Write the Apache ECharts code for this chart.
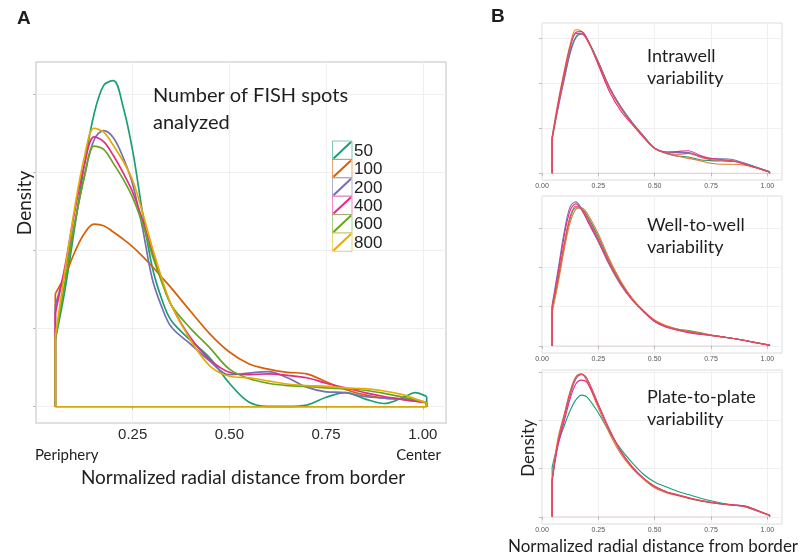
<!DOCTYPE html>
<html><head><meta charset="utf-8">
<script src="https://cdn.jsdelivr.net/npm/echarts@6/dist/echarts.min.js"></script>
<style>html,body{margin:0;padding:0;background:#fff}#c{width:800px;height:557px}</style>
</head><body><div id="c"></div>
<script>
// ---------- Panel A data ----------
const xA = [0.05,0.075,0.1,0.125,0.15,0.175,0.2,0.225,0.25,0.275,0.3,0.325,0.35,0.4,0.45,0.5,0.55,0.6,0.65,0.7,0.75,0.8,0.85,0.9,0.95,0.98,1.01];
const a50  = [0.86,1.5,2.3,3.1,3.75,4.12,4.18,3.85,3.28,2.5,1.8,1.38,1.1,0.85,0.62,0.3,0.06,0.004,0.004,0.02,0.12,0.18,0.1,0.04,0.12,0.18,0.13];
const a100 = [1.45,1.68,1.98,2.22,2.34,2.32,2.24,2.15,2.05,1.93,1.8,1.66,1.52,1.22,0.93,0.7,0.55,0.48,0.44,0.42,0.32,0.22,0.15,0.11,0.09,0.07,0.05];
const a200 = [1.3,1.75,2.35,2.95,3.42,3.54,3.45,3.2,2.85,2.3,1.65,1.28,1.02,0.8,0.58,0.41,0.43,0.45,0.37,0.25,0.19,0.18,0.13,0.11,0.1,0.08,0.05];
const a400 = [1.2,1.8,2.5,3.1,3.46,3.4,3.22,3.0,2.75,2.4,2.0,1.62,1.3,0.88,0.6,0.44,0.41,0.42,0.4,0.37,0.3,0.24,0.18,0.13,0.09,0.07,0.05];
const a600 = [0.86,1.6,2.35,2.95,3.34,3.3,3.12,2.92,2.68,2.35,1.95,1.6,1.3,1.0,0.75,0.48,0.36,0.3,0.27,0.26,0.24,0.23,0.21,0.17,0.12,0.09,0.05];
const a800 = [0.9,1.75,2.55,3.2,3.57,3.52,3.35,3.15,2.9,2.5,2.05,1.65,1.3,0.85,0.52,0.39,0.37,0.33,0.29,0.27,0.26,0.24,0.23,0.2,0.15,0.1,0.05];
const groupsA = ['50','100','200','400','600','800'];
const seriesA = [a50,a100,a200,a400,a600,a800];
const colorsA = ['#1b9e77','#d95f02','#7570b3','#e7298a','#66a61e','#e6ab02'];
const xTickLabelsA = [0.25,0.5,0.75,1.0];
const yTicksA = [0,1,2,3,4];

// ---------- Panel B data ----------
const xB = [0.045,0.07,0.1,0.125,0.15,0.175,0.2,0.25,0.3,0.35,0.4,0.45,0.5,0.55,0.6,0.65,0.7,0.75,0.8,0.85,0.9,0.95,1.01];
const b1teal   = [0.8,1.45,2.15,2.7,3.02,3.1,2.98,2.47,1.9,1.47,1.13,0.83,0.55,0.44,0.38,0.36,0.3,0.28,0.27,0.26,0.22,0.14,0.04];
const b1orange = [0.82,1.55,2.3,2.85,3.18,3.15,2.98,2.42,1.87,1.45,1.1,0.8,0.55,0.45,0.38,0.33,0.28,0.22,0.2,0.2,0.18,0.12,0.02];
const b1purple = [0.75,1.4,2.1,2.65,3.0,3.08,2.97,2.46,1.9,1.47,1.12,0.83,0.56,0.47,0.46,0.46,0.38,0.32,0.32,0.3,0.22,0.13,0.03];
const b1pink   = [0.78,1.5,2.25,2.8,3.12,3.14,2.98,2.4,1.8,1.38,1.08,0.8,0.55,0.47,0.48,0.5,0.4,0.33,0.3,0.27,0.2,0.12,0.02];
const b1red    = [0.76,1.45,2.2,2.78,3.1,3.1,2.95,2.45,1.88,1.44,1.1,0.82,0.55,0.45,0.42,0.44,0.36,0.3,0.29,0.27,0.2,0.12,0.03];
const b2teal   = [0.95,1.65,2.6,3.25,3.52,3.5,3.32,2.78,2.15,1.62,1.2,0.88,0.63,0.5,0.43,0.39,0.34,0.28,0.23,0.19,0.14,0.085,0.02];
const b2orange = [0.85,1.55,2.5,3.15,3.48,3.52,3.38,2.85,2.2,1.65,1.22,0.9,0.66,0.52,0.43,0.38,0.33,0.28,0.23,0.19,0.14,0.085,0.02];
const b2purple = [1.05,1.9,2.95,3.55,3.67,3.5,3.2,2.65,2.05,1.55,1.17,0.88,0.62,0.48,0.42,0.35,0.3,0.27,0.23,0.19,0.14,0.08,0.02];
const b2pink   = [1.0,1.8,2.85,3.45,3.62,3.47,3.22,2.68,2.08,1.58,1.18,0.88,0.62,0.48,0.4,0.34,0.3,0.27,0.23,0.19,0.14,0.08,0.02];
const b2red    = [1.0,1.7,2.65,3.3,3.56,3.5,3.28,2.72,2.1,1.58,1.18,0.9,0.64,0.5,0.41,0.36,0.31,0.27,0.23,0.19,0.14,0.085,0.02];
const b3teal   = [1.03,1.5,1.9,2.2,2.42,2.52,2.48,2.15,1.75,1.4,1.12,0.88,0.72,0.62,0.53,0.46,0.39,0.33,0.28,0.24,0.21,0.13,0.03];
const b3orange = [0.78,1.6,2.15,2.6,2.9,2.96,2.8,2.25,1.72,1.3,1.0,0.78,0.6,0.5,0.44,0.38,0.33,0.29,0.26,0.24,0.22,0.14,0.03];
const b3purple = [0.75,1.5,2.08,2.52,2.85,2.95,2.86,2.33,1.8,1.35,1.04,0.8,0.63,0.52,0.45,0.39,0.33,0.29,0.26,0.24,0.22,0.14,0.03];
const b3pink   = [0.74,1.45,2.0,2.45,2.75,2.83,2.78,2.3,1.78,1.35,1.03,0.8,0.62,0.52,0.45,0.39,0.34,0.3,0.27,0.25,0.22,0.14,0.03];
const b3red    = [0.76,1.55,2.12,2.58,2.88,2.95,2.85,2.32,1.8,1.36,1.04,0.8,0.63,0.52,0.46,0.4,0.34,0.3,0.27,0.24,0.21,0.13,0.03];
const groupsB = ['rep1','rep2','rep3','rep4','rep5'];
const colorsB = ['#1b9e77','#e07b39','#7570b3','#e7298a','#e8504f'];
const panelB = [
  [b1teal,b1orange,b1purple,b1pink,b1red],
  [b2teal,b2orange,b2purple,b2pink,b2red],
  [b3teal,b3orange,b3purple,b3pink,b3red]
];
const xTickLabelsB = [0,0.25,0.5,0.75,1.0];
const yTicksB = [0,1,2,3];
const titlesB = [['Intrawell','variability'],['Well-to-well','variability'],['Plate-to-plate','variability']];

// ---------- layout ----------
const gridsLayout = [
  {left:36, top:62, width:410, height:361},
  {left:542, top:23, width:240, height:157},
  {left:542, top:196, width:240, height:157},
  {left:542, top:370, width:240, height:154}
];
const yRanges = [[-0.21,4.42],[-0.15,3.33],[-0.18,3.82],[-0.15,3.04]];
const xMax = [1.06,1.065,1.065,1.065];

const chart = echarts.init(document.getElementById('c'), null, {renderer:'canvas'});

const grid = gridsLayout.map((g,i)=>Object.assign({show:true, backgroundColor:'#fff', borderColor: i===0?'#d6d6d6':'#dcdcdc', borderWidth: i===0?1.5:1, containLabel:false}, g));

const xAxis = gridsLayout.map((g,i)=>({
  type:'value', gridIndex:i, min:0, max:xMax[i], interval:0.25,
  axisLine:{show:false},
  axisTick:{show:true, length:3, lineStyle:{color:'#bdbdbd'}, customValues: i===0?xTickLabelsA:xTickLabelsB},
  axisLabel:{
    customValues: i===0?xTickLabelsA:xTickLabelsB,
    formatter: v => { const ok = (i===0?xTickLabelsA:xTickLabelsB).some(t=>Math.abs(t-v)<1e-6); return ok? v.toFixed(2):''; },
    fontFamily: 'Liberation Sans', fontSize: i===0?15:7, color: i===0?'#2b2b2b':'#555', margin: i===0?4:3,
    showMaxLabel:true, showMinLabel:true
  },
  splitLine:{show:true, lineStyle:{color:'#efefef', width:1}}
}));

const yAxis = gridsLayout.map((g,i)=>({
  type:'value', gridIndex:i, min:yRanges[i][0], max:yRanges[i][1], splitNumber: i===0?4:3,
  axisLine:{show:false},
  axisTick:{show:true, length:3, lineStyle:{color:'#bdbdbd'}, customValues: i===0?yTicksA:yTicksB},
  axisLabel:{show:false},
  splitLine:{show:true, lineStyle:{color:'#efefef', width:1}}
}));

const series = [];
function addDensity(name, xs, ys, color, gi, width, baseOpacity){
  series.push({
    type:'line', name, xAxisIndex:gi, yAxisIndex:gi,
    data: xs.map((x,k)=>[x, ys[k]]),
    smooth:0.35, showSymbol:false, symbol:'none', silent:true,
    lineStyle:{color, width}, itemStyle:{color}
  });
  const n = xs.length-1;
  // vertical edges of the density outline
  series.push({
    type:'line', name: name+'-edges', xAxisIndex:gi, yAxisIndex:gi,
    data: [[xs[n], ys[n]],[xs[n],0],null,[xs[0],0],[xs[0],ys[0]]],
    connectNulls:false, smooth:false, showSymbol:false, symbol:'none', silent:true,
    lineStyle:{color, width}, itemStyle:{color}
  });
  // baseline of the density outline
  series.push({
    type:'line', name: name+'-base', xAxisIndex:gi, yAxisIndex:gi,
    data: [[xs[0],0],[xs[n],0]],
    smooth:false, showSymbol:false, symbol:'none', silent:true,
    lineStyle:{color, width:1, opacity:baseOpacity}, itemStyle:{color}
  });
}
groupsA.forEach((g,k)=>addDensity(g, xA, seriesA[k], colorsA[k], 0, 1.7, 1));
panelB.forEach((sets,p)=>sets.forEach((ys,k)=>addDensity(groupsB[k]+'-'+p, xB, ys, colorsB[k], p+1, 1.1, 0.05)));

// ---------- text & legend graphics ----------
const fontCal = 'Lato, "Open Sans", sans-serif';
const graphic = [];
function txt(text, x, y, font, opts){
  const o = Object.assign({align:'left', rot:0, fill:'#1e1e1e'}, opts||{});
  graphic.push({type:'text', x, y, rotation:o.rot, silent:true, z:100,
    style:{text, x:0, y:0, font, fill:o.fill, textAlign:o.align, align:o.align, textVerticalAlign:'middle', verticalAlign:'middle'}});
}
txt('A', 17, 19, 'bold 19px "Liberation Sans", Arial', {});
txt('B', 491, 17, 'bold 19px "Liberation Sans", Arial', {});
txt('Number of FISH spots', 153, 96, '20px '+fontCal, {});
txt('analyzed', 153, 123, '20px '+fontCal, {});
txt('Density', 25, 203, '19px '+fontCal, {align:'center', rot:Math.PI/2});
txt('Periphery', 35, 455, '15px '+fontCal, {});
txt('Center', 441, 455, '15px '+fontCal, {align:'right'});
txt('Normalized radial distance from border', 243, 478, '19px '+fontCal, {align:'center'});
const titleMid = [56, 225, 397];
titlesB.forEach((t,k)=>{ txt(t[0], 647, titleMid[k], '18px '+fontCal, {}); txt(t[1], 647, titleMid[k]+22, '18px '+fontCal, {}); });
txt('Density', 529, 448, '17px '+fontCal, {align:'center', rot:Math.PI/2});
txt('Normalized radial distance from border', 653, 547, '17px '+fontCal, {align:'center'});

// legend for panel A
const legX = 332.5, legY0 = 141, legH = 18.4, legW = 19.5;
groupsA.forEach((g,k)=>{
  const y = legY0 + k*legH;
  graphic.push({type:'rect', silent:true, z:100, shape:{x:legX, y:y, width:legW, height:legH}, style:{fill:'#fff', stroke:colorsA[k], lineWidth:1, opacity:0.55}});
  graphic.push({type:'line', silent:true, z:101, shape:{x1:legX+1, y1:y+legH-1, x2:legX+legW-1, y2:y+1}, style:{stroke:colorsA[k], lineWidth:2}});
  txt(g, legX+legW+2, y+legH/2+1, '17px "Liberation Sans", Arial', {fill:'#222'});
});

chart.setOption({
  animation:false,
  backgroundColor:'#fff',
  grid, xAxis, yAxis, series, graphic
});
</script></body></html>
